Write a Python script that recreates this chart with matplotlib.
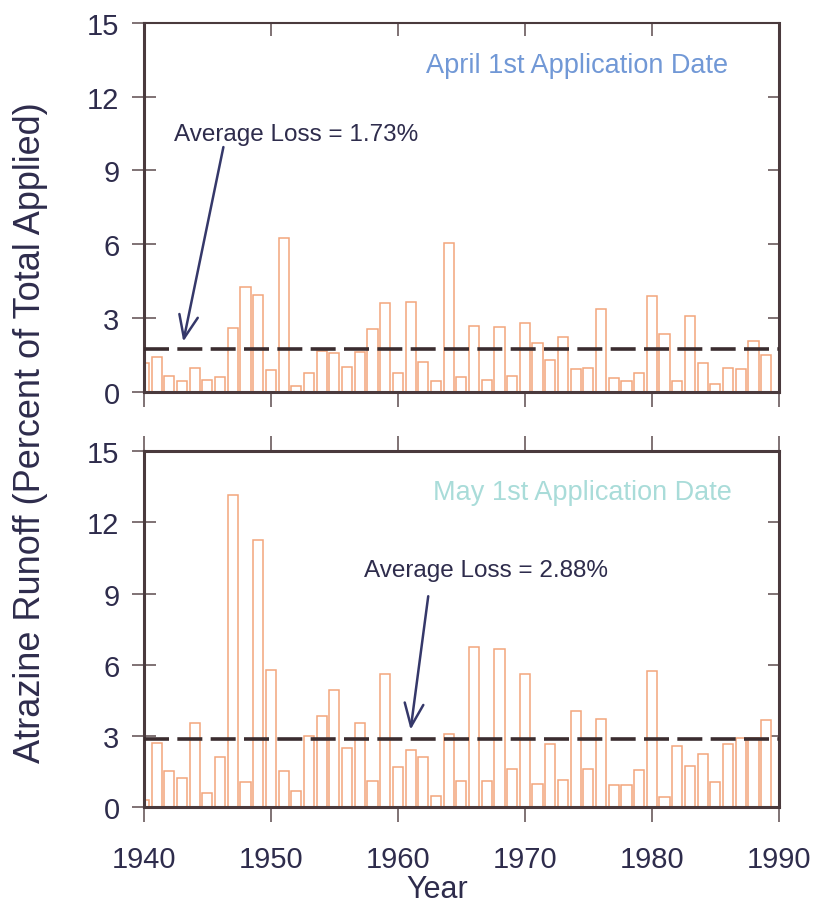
import numpy as np
import matplotlib
matplotlib.use("Agg")
import matplotlib.pyplot as plt

plt.rcParams['font.family'] = ['Liberation Sans', 'DejaVu Sans']
plt.rcParams['lines.scale_dashes'] = False

# Yearly atrazine runoff, percent of total applied
years = np.arange(1940, 1990)

april_runoff = [1.18, 1.42, 0.64, 0.45, 0.96, 0.47, 0.61, 2.59, 4.25, 3.96,
                0.91, 6.27, 0.26, 0.76, 1.65, 1.59, 1.02, 1.63, 2.56, 3.61,
                0.76, 3.66, 1.21, 0.43, 6.04, 0.60, 2.70, 0.47, 2.65, 0.65,
                2.80, 2.00, 1.30, 2.25, 0.95, 0.97, 3.37, 0.58, 0.43, 0.78,
                3.90, 2.37, 0.44, 3.08, 1.20, 0.32, 0.97, 0.92, 2.06, 1.50]

may_runoff = [0.30, 2.68, 1.50, 1.21, 3.53, 0.61, 2.12, 13.18, 1.07, 11.27,
              5.76, 1.50, 0.68, 3.00, 3.86, 4.94, 2.47, 3.53, 1.10, 5.62,
              1.69, 2.40, 2.12, 0.47, 3.10, 1.10, 6.74, 1.09, 6.65, 1.60,
              5.62, 0.99, 2.66, 1.13, 4.05, 1.62, 3.71, 0.95, 0.92, 1.55,
              5.72, 0.42, 2.58, 1.72, 2.23, 1.06, 2.67, 2.90, 2.90, 3.67]

avg_loss = [1.73, 2.88]
panel_titles = ["April 1st Application Date", "May 1st Application Date"]
title_colors = ["#7198d6", "#a9dcd9"]
yticks = [0, 3, 6, 9, 12, 15]
xticks = [1940, 1950, 1960, 1970, 1980, 1990]

# arrow (start, tip) in data coords and label position for each panel
arrow_start = [(1946.26, 9.95), (1962.39, 8.89)]
arrow_tip = [(1943.1, 2.05), (1961.0, 3.26)]
label_pos = [(1942.4, 10.5), (1957.3, 10.0)]
title_pos = [(1974.1, 13.3), (1974.5, 13.3)]

bar_color = "#f3a67c"
frame_color = "#4a3a3d"
text_color = "#2e2c4c"
arrow_color = "#35386a"

fig = plt.figure(figsize=(8.13, 9.12), dpi=100)
ax_top = fig.add_axes([0.177, 0.569, 0.781, 0.405])
ax_bot = fig.add_axes([0.177, 0.114, 0.781, 0.390])

for i, (ax, vals) in enumerate([(ax_top, april_runoff), (ax_bot, may_runoff)]):
    ax.bar(years, vals, width=0.8, facecolor="white", edgecolor=bar_color,
           linewidth=1.1, zorder=2)
    ax.axhline(avg_loss[i], color="#3a2c2f", linewidth=2.6,
               dashes=(18, 6), zorder=3)

    ax.set_xlim(1940, 1990)
    ax.set_ylim(0, 15)
    ax.set_yticks(yticks)
    ax.set_xticks(xticks)

    for side in ["left", "right", "bottom", "top"]:
        ax.spines[side].set_color(frame_color)
        ax.spines[side].set_linewidth(2.2)

    ax.tick_params(axis="y", which="both", left=True, right=False,
                   direction="inout", length=17, width=1.2, color="#6a5a5c",
                   labelsize=21, labelcolor=text_color, pad=9)
    ax_r = ax.secondary_yaxis("right")
    ax_r.set_yticks(yticks)
    ax_r.tick_params(direction="in", length=8, width=1.2, color="#6a5a5c",
                     labelright=False)
    ax_r.spines["right"].set_visible(False)

    ax.tick_params(axis="x", bottom=True, direction="out", length=11,
                   width=1.2, color="#6a5a5c", labelsize=21,
                   labelcolor=text_color, pad=16)

    ax.text(*title_pos[i], panel_titles[i], fontsize=19.5,
            color=title_colors[i], ha="center", va="center")
    ax.text(*label_pos[i], "Average Loss = %.2f%%" % avg_loss[i],
            fontsize=17.5, color=text_color, ha="left", va="center")
    ax.annotate("", xy=arrow_tip[i], xytext=arrow_start[i],
                arrowprops=dict(arrowstyle="->,head_length=1.1,head_width=0.45",
                                mutation_scale=15, color=arrow_color,
                                linewidth=1.8, shrinkA=0, shrinkB=0),
                zorder=4)

ax_top.spines["top"].set_linewidth(1.5)
ax_top.tick_params(axis="x", labelbottom=False)
ax_t = ax_top.secondary_xaxis("top")
ax_t.set_xticks(xticks)
ax_t.tick_params(direction="in", length=9, width=1.2, color="#6a5a5c",
                 labeltop=False)
ax_t.spines["top"].set_visible(False)

ax_b = ax_bot.secondary_xaxis("top")
ax_b.set_xticks(xticks)
ax_b.tick_params(direction="out", length=11, width=1.2, color="#6a5a5c",
                 labeltop=False)
ax_b.spines["top"].set_visible(False)

fig.text(0.037, 0.526, "Atrazine Runoff (Percent of Total Applied)",
         rotation=90, fontsize=26, color=text_color, ha="center", va="center")
fig.text(0.5375, 0.024, "Year", fontsize=22, color=text_color,
         ha="center", va="center")

fig.savefig("out.png", dpi=100, facecolor="white")
